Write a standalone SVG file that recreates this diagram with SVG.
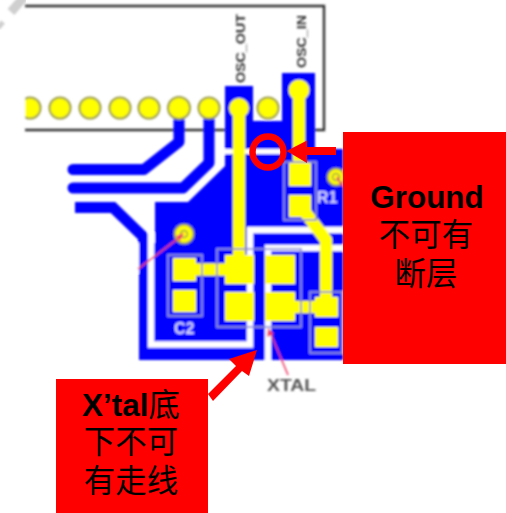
<svg xmlns="http://www.w3.org/2000/svg" width="506" height="513" viewBox="0 0 506 513">
<defs>
<style>
.blue{fill:#0000ff}
.trace{fill:none;stroke:#0000ff;stroke-width:11;stroke-linecap:round;stroke-linejoin:round}
.gap{fill:none;stroke:#fff;stroke-width:6.5}
.pad{fill:#ffff00}
.ytrace{fill:none;stroke:#ffff00;stroke-width:12.5;stroke-linejoin:round}
.hole{fill:#ffff00;stroke:#9c9c48;stroke-width:2}
.outline{fill:none;stroke:#8f8fd8;stroke-width:1.8}
.pink{fill:none;stroke:#f0406a;stroke-width:1.6}
.silk{font-family:"Liberation Sans",Arial,sans-serif;font-weight:700;font-size:16px;fill:#d4d4ff}
.lbl{font-family:"Liberation Sans",Arial,sans-serif;font-weight:700;font-size:13px;fill:#333}
.big{font-family:"Liberation Sans","Noto Sans CJK SC",sans-serif;font-size:31.5px;fill:#000;text-anchor:middle}
.red{fill:#ff0000}
</style>
<filter id="soft" x="-5%" y="-5%" width="110%" height="110%"><feGaussianBlur stdDeviation="0.8"/></filter>
</defs>
<g id="watermark" fill="none" stroke="#cfcfcf" stroke-width="9" filter="url(#soft)">
<path d="M24 -3L11 12"/>
<path d="M-2 28L3 22" stroke-width="5"/>
</g>
<g id="pcb" filter="url(#soft)">
<path id="frame" d="M25 6H324V130H25" fill="none" stroke="#333" stroke-width="2.4"/>
<g id="pins" class="hole">
<circle cx="30" cy="108" r="10.5"/><circle cx="60" cy="108" r="10.5"/><circle cx="90" cy="108" r="10.5"/><circle cx="120" cy="108" r="10.5"/><circle cx="149" cy="108" r="10.5"/><circle cx="268" cy="108" r="10.5"/>
</g>
<rect x="0" y="95" width="25" height="26" fill="#fff"/>
<g id="copper">
<path class="blue" d="M225 86H253V121H282V73H315V149H343V360H271V348H265V360H139V243H155V202H188L225 166V154H225Z"/>
<path class="blue" d="M225 86H253V149H225Z"/>
<path class="trace" d="M179 112V142L144 169.500H73"/>
<path class="trace" d="M209 112V163L183 188H73"/>
<path class="trace" style="stroke-linecap:butt;stroke-linejoin:miter" d="M75 207.500H113L143.500 237V262"/>
<rect x="100" y="243" width="39" height="30" fill="#fff"/>
<path class="gap" d="M151 233V344.500H250V230H343"/>
<path class="gap" d="M268 360V248H343"/>
<path d="M224 151.500H282" fill="none" stroke="#fff" stroke-width="5"/>
</g>
<g id="pin-pads" class="hole">
<circle cx="179" cy="108" r="11"/><circle cx="209" cy="108" r="10.500"/>
</g>
<g id="yellow-traces">
<circle class="pad" cx="239" cy="108" r="10"/>
<circle class="pad" cx="299" cy="90" r="10.500"/>
<path class="ytrace" d="M239 108V258"/>
<path class="ytrace" d="M299 90V165"/>
<path class="ytrace" d="M196 269.500H226"/>
<path class="ytrace" d="M292 307H322"/>
<path class="ytrace" d="M302 208L326 240V300"/>
</g>
<g id="C2">
<rect class="outline" x="168" y="255" width="34" height="61"/>
<rect class="pad" x="173" y="258" width="23" height="23"/>
<rect class="pad" x="173" y="290" width="23" height="22"/>
<text class="silk" x="174" y="334">C2</text>
</g>
<g id="R1">
<rect class="outline" x="284" y="162" width="32" height="58"/>
<rect class="pad" x="289" y="163" width="22" height="23"/>
<rect class="pad" x="289" y="195" width="22" height="22"/>
<text class="silk" x="317" y="203">R1</text>
</g>
<g id="XTAL">
<rect class="outline" x="217" y="249" width="84" height="78"/>
<rect class="pad" x="225" y="255" width="29" height="29"/>
<rect class="pad" x="265" y="255" width="30" height="29"/>
<rect class="pad" x="225" y="292" width="29" height="29"/>
<rect class="pad" x="265" y="292" width="30" height="29"/>
</g>
<g id="C-right">
<rect class="outline" x="310" y="292" width="32" height="61"/>
<rect class="pad" x="315" y="297" width="23" height="20"/>
<rect class="pad" x="315" y="327" width="23" height="20"/>
</g>
<g id="vias">
<circle class="hole" cx="184" cy="234" r="9.500"/><circle cx="184" cy="234" r="3.500" fill="none" stroke="#9c9c48" stroke-width="1.500"/>
<circle class="hole" cx="336" cy="177" r="8.500"/><circle cx="336" cy="177" r="3.500" fill="none" stroke="#9c9c48" stroke-width="1.500"/>
</g>
<g id="leaders">
<path class="pink" d="M138 269L180 237"/>
<path d="M184 233L176 236L180 241Z" fill="#f0406a"/>
<path class="pink" d="M288 375L270 332"/>
<path d="M268 328L267 337L274 334Z" fill="#f0406a"/>
<path d="M337 177L342 186" stroke="#f0406a" stroke-width="2"/>
</g>
<g id="labels">
<text class="lbl" transform="translate(244.500 83) rotate(-90)" textLength="69" lengthAdjust="spacingAndGlyphs">OSC_OUT</text>
<text class="lbl" transform="translate(305.500 68) rotate(-90)" textLength="53" lengthAdjust="spacingAndGlyphs">OSC_IN</text>
<text x="267" y="391" font-family="'Liberation Sans',Arial,sans-serif" font-size="17" font-weight="700" fill="#555" textLength="49" lengthAdjust="spacingAndGlyphs">XTAL</text>
</g>
</g>
<g id="connectors">
<circle cx="268" cy="152" r="15.500" fill="none" stroke="#ff0000" stroke-width="6.500"/>
<path class="red" d="M336 147V155H307V163L286.500 151L307 140.500V147Z"/>
<path class="red" d="M208 394L236 366L229 359L257 350L249 376L242 371L213 401Z"/>
</g>
<g id="note-ground">
<rect class="red" x="343" y="132" width="163" height="232"/>
<text class="big" x="427" y="208" font-weight="700">Ground</text>
<text class="big" x="426" y="246">不可有</text>
<text class="big" x="426" y="285">断层</text>
</g>
<g id="note-xtal">
<rect class="red" x="56" y="379" width="152" height="134"/>
<text class="big" x="131" y="416"><tspan font-weight="700">X’tal</tspan>底</text>
<text class="big" x="131" y="453">下不可</text>
<text class="big" x="131" y="492">有走线</text>
</g>
</svg>
